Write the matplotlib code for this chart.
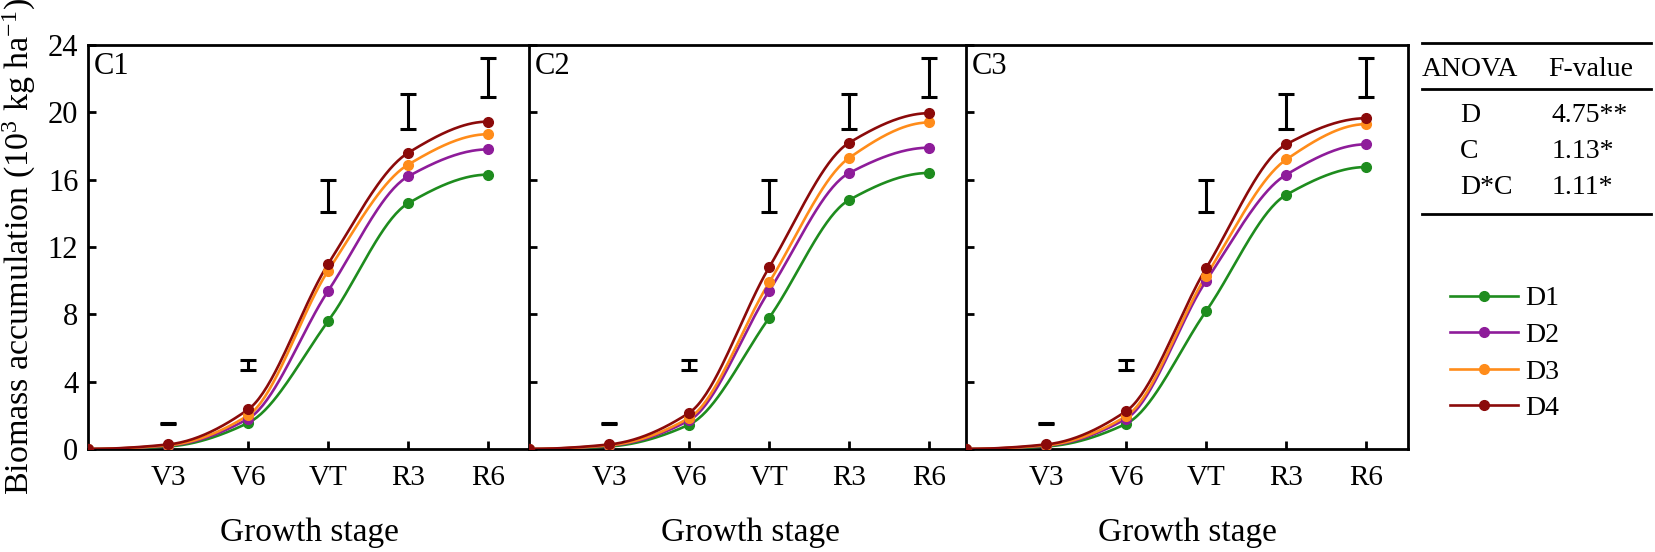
import numpy as np
import matplotlib
matplotlib.use("Agg")
import matplotlib.pyplot as plt
from matplotlib.lines import Line2D

plt.rcParams['font.family'] = ['Liberation Serif', 'DejaVu Serif']
plt.rcParams['mathtext.fontset'] = 'custom'
plt.rcParams['mathtext.rm'] = 'Liberation Serif'
plt.rcParams['mathtext.it'] = 'Liberation Serif:italic'

# ---- data (10^3 kg/ha) ----
stages = ['V3', 'V6', 'VT', 'R3', 'R6']
densities = ['D1', 'D2', 'D3', 'D4']
colors = ['#1E8C1E', '#8E1C9A', '#FF8C1A', '#8B0A0A']
panels = ['C1', 'C2', 'C3']

c1_d1 = [0.15, 1.55, 7.6, 14.6, 16.3]
c1_d2 = [0.20, 1.80, 9.4, 16.2, 17.8]
c1_d3 = [0.22, 2.00, 10.6, 16.9, 18.7]
c1_d4 = [0.27, 2.35, 11.0, 17.6, 19.45]

c2_d1 = [0.15, 1.45, 7.8, 14.8, 16.4]
c2_d2 = [0.20, 1.70, 9.4, 16.4, 17.9]
c2_d3 = [0.22, 1.85, 9.9, 17.3, 19.4]
c2_d4 = [0.27, 2.15, 10.8, 18.2, 19.95]

c3_d1 = [0.15, 1.50, 8.2, 15.1, 16.75]
c3_d2 = [0.20, 1.80, 10.0, 16.3, 18.1]
c3_d3 = [0.22, 1.95, 10.3, 17.2, 19.3]
c3_d4 = [0.27, 2.25, 10.75, 18.1, 19.65]

# LSD bars (centre, half length) per stage
lsd_center = [1.5, 5.0, 15.05, 20.05, 22.05]
lsd_half = [0.04, 0.3, 0.95, 1.05, 1.15]

anova_terms = ['D', 'C', 'D*C']
f_values = ['4.75**', '1.13*', '1.11*']

panel_data = [[c1_d1, c1_d2, c1_d3, c1_d4],
              [c2_d1, c2_d2, c2_d3, c2_d4],
              [c3_d1, c3_d2, c3_d3, c3_d4]]


def smooth_line(x, y, n=200):
    # monotone cubic (pchip) curve through the points, for drawing only
    x = np.asarray(x, float)
    y = np.asarray(y, float)
    h = np.diff(x)
    d = np.diff(y) / h
    m = np.zeros_like(y)
    for k in range(1, len(x) - 1):
        if d[k - 1] * d[k] > 0:
            w1 = 2 * h[k] + h[k - 1]
            w2 = h[k] + 2 * h[k - 1]
            m[k] = (w1 + w2) / (w1 / d[k - 1] + w2 / d[k])

    def end(h0, h1, d0, d1):
        s = ((2 * h0 + h1) * d0 - h0 * d1) / (h0 + h1)
        if np.sign(s) != np.sign(d0):
            s = 0.0
        elif np.sign(d0) != np.sign(d1) and abs(s) > abs(3 * d0):
            s = 3 * d0
        return s

    m[0] = end(h[0], h[1], d[0], d[1])
    m[-1] = end(h[-1], h[-2], d[-1], d[-2])
    xs = np.linspace(x[0], x[-1], n)
    i = np.clip(np.searchsorted(x, xs) - 1, 0, len(h) - 1)
    t = (xs - x[i]) / h[i]
    ys = ((2 * t**3 - 3 * t**2 + 1) * y[i] + (t**3 - 2 * t**2 + t) * h[i] * m[i]
          + (-2 * t**3 + 3 * t**2) * y[i + 1] + (t**3 - t**2) * h[i] * m[i + 1])
    return xs, ys


W, H = 1655, 552
fig = plt.figure(figsize=(W / 100, H / 100), dpi=100)

ax_left = [88, 529, 966]
ax_w = 442
ax_top, ax_bot = 45, 449
xpos = np.arange(1, len(stages) + 1)

for p, (name, series) in enumerate(zip(panels, panel_data)):
    ax = fig.add_axes([ax_left[p] / W, 1 - ax_bot / H, ax_w / W, (ax_bot - ax_top) / H])
    for vals, col in zip(series, colors):
        xx = np.concatenate([[0], xpos])
        yy = np.concatenate([[0], vals])
        sx, sy = smooth_line(xx, yy)
        ax.plot(sx, sy, color=col, lw=1.9, zorder=3)
        ax.plot(xx, yy, 'o', color=col, ms=7, zorder=4)
    ax.errorbar(xpos, lsd_center, yerr=lsd_half, fmt='none', ecolor='black',
                elinewidth=2.2, capsize=5.8, capthick=2.2, zorder=5)
    ax.set_xlim(0, 5.52)
    ax.set_ylim(0, 24)
    ax.set_xticks(xpos)
    ax.set_xticklabels(stages)
    ax.set_yticks(np.arange(0, 25, 4))
    if p > 0:
        ax.set_yticklabels([])
    else:
        ax.set_ylabel('Biomass accumulation (10$^{3}$ kg ha$^{-1}$)', fontsize=24.5, labelpad=7)
    ax.tick_params(direction='in', length=5.5, width=2)
    ax.tick_params(axis='x', labelsize=21, pad=11.5)
    ax.tick_params(axis='y', labelsize=22, pad=7)
    for s in ax.spines.values():
        s.set_linewidth(2.0)
    ax.set_xlabel('Growth stage', fontsize=24, labelpad=19)
    ax.text(0.013, 0.983, name, transform=ax.transAxes, fontsize=22, va='top', ha='left')

# ANOVA table
tx0, tx1 = 1422 / W, 1651 / W
for yl in [43, 89, 214]:
    fig.add_artist(Line2D([tx0, tx1], [1 - yl / H, 1 - yl / H], color='black', lw=2.0,
                          transform=fig.transFigure))
fig.text(1422 / W, 1 - 69 / H, 'ANOVA', fontsize=20, va='center', ha='left')
fig.text(1548 / W, 1 - 69 / H, 'F-value', fontsize=20, va='center', ha='left')
for k, (term, fv) in enumerate(zip(anova_terms, f_values)):
    yy = 1 - (115.5 + 36 * k) / H
    fig.text(1460 / W, yy, term, fontsize=20, va='center', ha='left')
    fig.text(1552 / W, yy, fv, fontsize=20, va='center', ha='left')

handles = [Line2D([], [], color=c, lw=1.9, marker='o', ms=7) for c in colors]
fig.legend(handles, densities, loc='upper left', bbox_to_anchor=(1450 / W, 1 - 286 / H),
           frameon=False, fontsize=20, handlelength=2.45, handletextpad=0.25,
           labelspacing=0.4, borderpad=0, borderaxespad=0)

fig.savefig('out.png', dpi=100)
